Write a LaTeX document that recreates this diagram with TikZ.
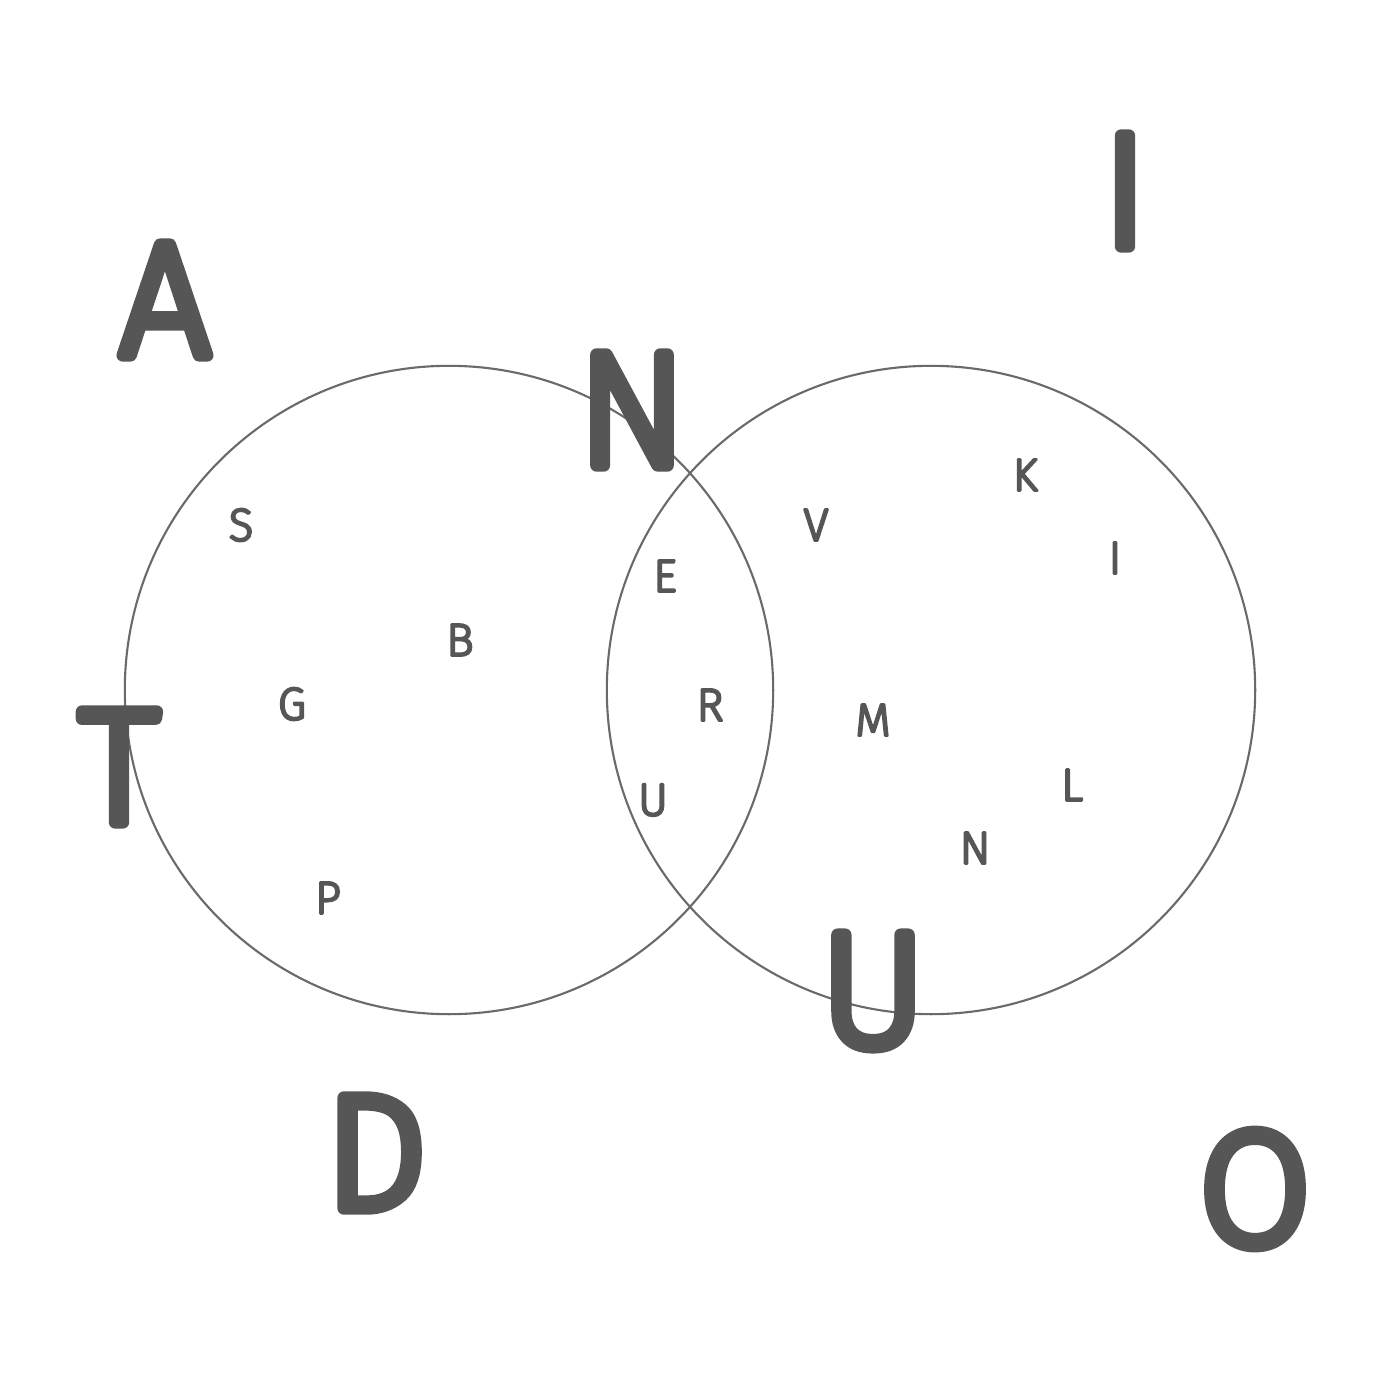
\documentclass[tikz,border=0pt]{standalone}
\usepackage{fontspec}
\setmainfont{Fira Sans}
\newfontfamily\thinfont{Fira Sans ExtraLight}
\definecolor{ink}{HTML}{565656}
\definecolor{ring}{HTML}{6A6A6A}
\newcommand{\roundink}[1]{\special{pdf:literal direct 1 j 1 J 0.337 0.337 0.337 RG 3.6 w 2 Tr}#1\special{pdf:literal direct 0 Tr}}
\newcommand{\roundsmall}[1]{\special{pdf:literal direct 1 j 1 J 0.337 0.337 0.337 RG 0.75 w 2 Tr}#1\special{pdf:literal direct 0 Tr}}
\begin{document}
\begin{tikzpicture}[x=0.01cm,y=-0.01cm,
  big/.style={inner sep=0pt,text=ink,font=\thinfont\fontsize{46}{46}\selectfont},
  small/.style={inner sep=0pt,text=ink,font=\thinfont\fontsize{13}{13}\selectfont},
  setcircle/.style={draw=ring,line width=0.6pt}]
\useasboundingbox (0,0) rectangle (1400,1400);
\fill[white] (0,0) rectangle (1400,1400);
\node[setcircle,circle,minimum size=6.48cm,inner sep=0pt] (left) at (449,690) {};
\node[setcircle,circle,minimum size=6.48cm,inner sep=0pt] (right) at (931,690) {};
% big letters
\node[big] (bA) at (165,300) {\roundink{A}};
\node[big] (bN) at (632,410) {\roundink{N}};
\node[big] (bI) at (1125,191) {\roundink{I}};
\node[big] (bT) at (119,767) {\roundink{T}};
\node[big] (bU) at (873,991) {\roundink{U}};
\node[big] (bD) at (376,1153) {\roundink{D}};
\node[big] (bO) at (1255,1189) {\roundink{O}};
% small letters
\node[small] (sS) at (241,525) {\roundsmall{S}};
\node[small] (sB) at (460,640) {\roundsmall{B}};
\node[small] (sG) at (292,704) {\roundsmall{G}};
\node[small] (sP) at (328,898) {\roundsmall{P}};
\node[small] (sE) at (665,576) {\roundsmall{E}};
\node[small] (sR) at (710,705) {\roundsmall{R}};
\node[small] (sU) at (653,800) {\roundsmall{U}};
\node[small] (sV) at (816,525) {\roundsmall{V}};
\node[small] (sK) at (1025,475) {\roundsmall{K}};
\node[small] (sI) at (1115,558) {\roundsmall{I}};
\node[small] (sM) at (873,720) {\roundsmall{M}};
\node[small] (sL) at (1072,785) {\roundsmall{L}};
\node[small] (sN) at (975,848) {\roundsmall{N}};
\end{tikzpicture}
\end{document}
